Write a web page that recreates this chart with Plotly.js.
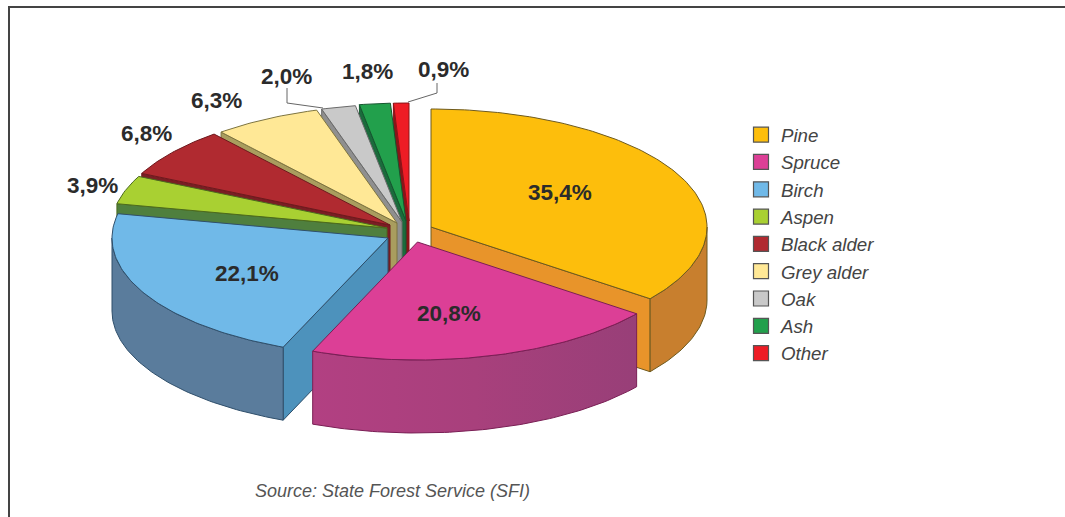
<!DOCTYPE html>
<html>
<head>
<meta charset="utf-8">
<script src="https://cdn.plot.ly/plotly-3.0.1.min.js"></script>
<style>html,body{margin:0;padding:0;background:#fff;overflow:hidden}#chart{width:1065px;height:517px}</style>
</head>
<body>
<div id="chart"></div>
<script>
// --- data ---
const categories = ['Pine','Spruce','Birch','Aspen','Black alder','Grey alder','Oak','Ash','Other'];
const shares     = [35.4, 20.8, 22.1, 3.9, 6.8, 6.3, 2.0, 1.8, 0.9];

// --- styling ---
const topColors    = ['#FDBE0C','#DC3F96','#70B9E8','#A9D032','#B02A30','#FFE896','#C9C9C9','#22A04C','#EE1C25'];
const edgeColors   = ['#6E5A1E','#7A1F55','#2F4F6B','#4B6A1E','#6E1A1E','#7D7440','#6A6A6A','#14562E','#8A1418'];
const radialColors = ['#E8942A','#A33F7C','#4D92BC','#4F7F3E','#7A1E24','#A99D5E','#8F8F8F','#1B6B3C','#8A1418'];
const outerColors  = ['#C87F2E','#A0407A','#5A7C9C','#4F7F3E','#7A1E24','#A99D5E','#8F8F8F','#1B6B3C','#8A1418'];

// --- layout of the exploded tilted pie ---
const rx = 276, ry = 118, depth = 73;
const apexX = [431, 417.5, 388, 387, 390, 397, 402, 406, 409];
const apexY = [227, 242, 238, 228, 225, 223, 222, 221, 221];
const drawOrder = [8,7,6,5,4,3,2,0,1];

const labelX = [560, 449, 247, 92, 146, 216, 286, 367, 443];
const labelY = [192, 313, 273, 185, 133, 100, 76, 71, 69];

// cumulative angles from the values, clockwise from 12 o'clock
const total = shares.reduce((a,b)=>a+b,0);
let acc = 0;
const starts = [], ends = [];
shares.forEach(v => { starts.push(acc/total*360); acc += v; ends.push(acc/total*360); });

const rad = d => d*Math.PI/180;
const px = (i,a) => apexX[i] + rx*Math.sin(rad(a));
const py = (i,a) => apexY[i] - ry*Math.cos(rad(a));
function arcAngles(a0,a1){ const out=[]; const n=Math.max(2,Math.ceil(Math.abs(a1-a0))); for(let k=0;k<=n;k++) out.push(a0+(a1-a0)*k/n); return out; }

function poly(xs,ys,fill,line,extra){
  return Object.assign({type:'scatter',mode:'lines',x:xs.concat(xs[0]),y:ys.concat(ys[0]),fill:'toself',fillcolor:fill,
    line:{color:line,width:1},hoverinfo:'skip',showlegend:false},extra||{});
}

const traces = [];
drawOrder.forEach(i => {
  const a0 = starts[i], a1 = ends[i];
  // radial wall facing the viewer
  const wallAngles = [];
  if (Math.sin(rad(a0)) < -1e-6) wallAngles.push(a0);
  if (Math.sin(rad(a1)) >  1e-6) wallAngles.push(a1);
  wallAngles.forEach(a => {
    const ox = px(i,a), oy = py(i,a), ax = apexX[i], ay = apexY[i];
    traces.push(poly([ax,ox,ox,ax],[ay,oy,oy+depth,ay+depth],radialColors[i],edgeColors[i]));
  });
  // outer rim (front half only)
  const lo = Math.max(a0,90), hi = Math.min(a1,270);
  if (hi > lo) {
    const as = arcAngles(lo,hi);
    const xs = as.map(a=>px(i,a)), ys = as.map(a=>py(i,a));
    const rimX = xs.concat(xs.slice().reverse());
    const rimY = ys.concat(ys.slice().reverse().map(y=>y+depth));
    const extra = i === 1 ? {fillgradient:{type:'horizontal',colorscale:[[0,'#B24082'],[0.5,'#A8407C'],[1,'#983F78']]}} : {};
    traces.push(poly(rimX,rimY,outerColors[i],edgeColors[i],extra));
  }
  // top face
  const as = arcAngles(a0,a1);
  traces.push(poly([apexX[i]].concat(as.map(a=>px(i,a))),[apexY[i]].concat(as.map(a=>py(i,a))),topColors[i],edgeColors[i]));
});

// legend entries
categories.forEach((c,i) => traces.push({type:'scatter',mode:'markers',x:[null],y:[null],name:c,hoverinfo:'skip',
  marker:{symbol:'square',size:15,color:topColors[i],line:{color:'#555',width:1.2}}}));

const annotations = shares.map((v,i) => ({
  x:labelX[i],y:labelY[i],xref:'x',yref:'y',showarrow:false,xanchor:'center',yanchor:'middle',
  text:v.toFixed(1).replace('.',',')+'%',
  font:{family:'Liberation Sans, Arial, sans-serif',size:22.5,color:'#2B2B2B',weight:700}
}));
annotations.push({x:392,y:491,xref:'x',yref:'y',showarrow:false,xanchor:'center',yanchor:'middle',
  text:'Source: State Forest Service (SFI)',
  font:{family:'Liberation Sans, Arial, sans-serif',size:18,color:'#555555',style:'italic'}});

const layout = {
  width:1065,height:517,margin:{l:0,r:0,t:0,b:0},paper_bgcolor:'#fff',plot_bgcolor:'#fff',
  xaxis:{range:[0,1065],visible:false,fixedrange:true},
  yaxis:{range:[517,0],visible:false,fixedrange:true},
  showlegend:true,
  legend:{x:741/1065,xanchor:'left',y:1-116/517,yanchor:'top',bgcolor:'rgba(0,0,0,0)',itemwidth:30,
    font:{family:'Liberation Sans, Arial, sans-serif',size:18.7,color:'#444444',style:'italic'}},
  annotations:annotations,
  shapes:[
    {type:'path',path:'M 9 517 L 9 7 L 1065 7',xref:'x',yref:'y',line:{color:'#444444',width:2}},
    {type:'path',path:'M 287 88 L 287 103 L 323 108',xref:'x',yref:'y',line:{color:'#666666',width:1}},
    {type:'path',path:'M 437 83 L 437 93 L 408 102',xref:'x',yref:'y',line:{color:'#666666',width:1}}
  ]
};
Plotly.newPlot('chart',traces,layout,{displayModeBar:false,staticPlot:true});
</script>
</body>
</html>
